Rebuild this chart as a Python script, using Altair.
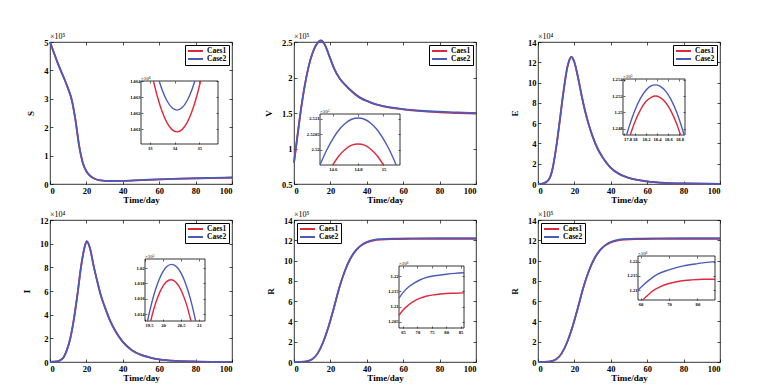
import altair as alt
import pandas as pd

CASES = ["Caes1", "Case2"]
RED, BLUE = "#E0283C", "#4B5CB8"
FONT = "Liberation Serif"

# ---------------- data ----------------
# S (x10^5)
S_t = [0, 2, 4, 6, 8, 10, 12, 14, 16, 18, 20, 22, 24, 26, 28, 30, 34, 40, 50, 60, 70, 80, 90, 100]
S_c1 = [5.0, 4.65, 4.3, 3.98, 3.68, 3.35, 2.95, 2.25, 1.35, 0.75, 0.45, 0.29, 0.2, 0.15, 0.125, 0.113, 0.106, 0.11, 0.135, 0.16, 0.18, 0.195, 0.21, 0.22]
S_c2 = [5.0, 4.65, 4.3, 3.98, 3.68, 3.35, 2.95, 2.25, 1.35, 0.75, 0.45, 0.29, 0.2, 0.15, 0.125, 0.113, 0.106, 0.111, 0.138, 0.165, 0.186, 0.203, 0.218, 0.232]
# S inset (x10^4)
Si_t1 = [33.15, 33.3, 33.5, 33.7, 33.9, 34.1, 34.3, 34.5, 34.7, 34.9, 35.05]
Si_v1 = [1.0640, 1.06309, 1.06211, 1.06141, 1.06099, 1.06085, 1.06099, 1.06141, 1.06211, 1.06309, 1.0640]
Si_t2 = [33.38, 33.5, 33.7, 33.9, 34.1, 34.3, 34.5, 34.7, 34.82]
Si_v2 = [1.0640, 1.06346, 1.06276, 1.06234, 1.0622, 1.06234, 1.06276, 1.06346, 1.0640]

# V (x10^5)
V_t = [0, 2, 4, 6, 8, 10, 12, 14.8, 17, 19, 22, 25, 28, 32, 36, 40, 45, 50, 60, 70, 80, 90, 100]
V_c1 = [0.8, 1.2, 1.58, 1.9, 2.15, 2.33, 2.45, 2.52, 2.46, 2.33, 2.13, 1.99, 1.9, 1.8, 1.72, 1.67, 1.62, 1.59, 1.55, 1.525, 1.51, 1.5, 1.49]
V_c2 = [0.8, 1.2, 1.58, 1.9, 2.15, 2.33, 2.45, 2.521, 2.46, 2.33, 2.13, 1.99, 1.9, 1.8, 1.72, 1.67, 1.62, 1.592, 1.555, 1.532, 1.518, 1.508, 1.5]
# V inset (x10^5)
Vi_t1 = [14.6, 14.65, 14.7, 14.75, 14.8, 14.85, 14.9, 14.95, 15.0]
Vi_v1 = [2.5195, 2.5198, 2.52001, 2.52014, 2.52018, 2.52014, 2.52001, 2.5198, 2.5195]
Vi_t2 = [14.5, 14.55, 14.6, 14.65, 14.7, 14.75, 14.8, 14.85, 14.9, 14.95, 15.0, 15.05, 15.1]
Vi_v2 = [2.5195, 2.51996, 2.52034, 2.52064, 2.52085, 2.52098, 2.52102, 2.52098, 2.52085, 2.52064, 2.52034, 2.51996, 2.5195]

# E (x10^4)
E_t = [0, 3, 6, 8, 10, 12, 14, 16, 17, 18.4, 20, 22, 24, 26, 28, 30, 33, 36, 40, 45, 50, 60, 70, 80, 100]
E_c1 = [0, 0.07, 0.45, 1.5, 3.6, 6.3, 9.1, 11.4, 12.1, 12.52, 12.0, 10.5, 8.7, 7.1, 5.8, 4.7, 3.4, 2.5, 1.6, 0.95, 0.6, 0.25, 0.1, 0.05, 0.02]
E_c2 = [0, 0.07, 0.45, 1.5, 3.6, 6.3, 9.1, 11.4, 12.1, 12.534, 12.0, 10.5, 8.7, 7.1, 5.8, 4.7, 3.4, 2.5, 1.6, 0.95, 0.6, 0.25, 0.1, 0.05, 0.02]
# E inset (x10^5)
Ei_t1 = [17.92, 18.0, 18.1, 18.2, 18.3, 18.37, 18.45, 18.55, 18.65, 18.75, 18.82]
Ei_v1 = [1.2472, 1.24876, 1.25027, 1.25132, 1.25188, 1.2520, 1.25185, 1.25123, 1.25014, 1.24858, 1.2472]
Ei_t2 = [17.855, 17.9, 18.0, 18.1, 18.2, 18.3, 18.37, 18.45, 18.55, 18.65, 18.75, 18.885]
Ei_v2 = [1.2472, 1.24823, 1.25019, 1.25168, 1.25271, 1.25327, 1.25338, 1.25323, 1.25263, 1.25155, 1.25002, 1.2472]

# I (x10^4)
I_t = [0, 4, 7, 9, 11, 13, 15, 17, 19, 20.2, 22, 24, 26, 28, 30, 33, 36, 40, 45, 50, 55, 60, 70, 80, 100]
I_c1 = [0, 0.05, 0.3, 0.9, 1.9, 3.5, 5.6, 8.0, 9.7, 10.186, 9.6, 8.1, 6.8, 5.6, 4.7, 3.5, 2.6, 1.7, 1.0, 0.6, 0.38, 0.23, 0.09, 0.04, 0.01]
I_c2 = [0, 0.05, 0.3, 0.9, 1.9, 3.5, 5.6, 8.0, 9.7, 10.205, 9.6, 8.1, 6.8, 5.6, 4.7, 3.5, 2.6, 1.7, 1.0, 0.6, 0.38, 0.23, 0.09, 0.04, 0.01]
# I inset (x10^5)
Ii_t1 = [19.66, 19.7, 19.8, 19.9, 20.0, 20.1, 20.22, 20.35, 20.45, 20.55, 20.65, 20.78]
Ii_v1 = [1.0131, 1.01388, 1.01548, 1.01674, 1.01766, 1.01824, 1.01848, 1.01819, 1.01758, 1.01663, 1.01534, 1.0131]
Ii_t2 = [19.57, 19.7, 19.8, 19.9, 20.0, 20.1, 20.24, 20.4, 20.5, 20.6, 20.7, 20.8, 20.91]
Ii_v2 = [1.0131, 1.01569, 1.01731, 1.01859, 1.01955, 1.02018, 1.0205, 1.02008, 1.01938, 1.01836, 1.01701, 1.01533, 1.0131]

# R (x10^5)
R_t = [0, 6, 10, 13, 16, 19, 22, 25, 28, 31, 34, 37, 40, 44, 48, 55, 65, 80, 100]
R_c1 = [0, 0.03, 0.26, 0.85, 1.95, 3.5, 5.4, 7.4, 9.0, 10.2, 11.0, 11.5, 11.8, 12.0, 12.07, 12.11, 12.13, 12.136, 12.136]
R_c2 = [0, 0.03, 0.26, 0.85, 1.95, 3.5, 5.4, 7.4, 9.0, 10.2, 11.0, 11.52, 11.83, 12.04, 12.12, 12.17, 12.19, 12.2, 12.2]
# R inset, panel 5 (x10^6)
R5i_t1 = [63.6, 65, 67, 69, 71, 73, 76, 80, 83, 86.2]
R5i_v1 = [1.2071, 1.2089, 1.2106, 1.2119, 1.2128, 1.2134, 1.2139, 1.2143, 1.2144, 1.2145]
R5i_t2 = [63.6, 65, 67, 69, 71, 73, 76, 80, 83, 86.2]
R5i_v2 = [1.2128, 1.2146, 1.2165, 1.2178, 1.2188, 1.2195, 1.2201, 1.2206, 1.2209, 1.2211]
# R inset, panel 6 (x10^6)
R6i_t1 = [60.8, 62, 64, 67, 70, 74, 78, 82, 86.2]
R6i_v1 = [1.2065, 1.2077, 1.2095, 1.2112, 1.2123, 1.2132, 1.2136, 1.2138, 1.2138]
R6i_t2 = [59.1, 61, 63, 66, 70, 75, 80, 86.2]
R6i_v2 = [1.2100, 1.2118, 1.2135, 1.2156, 1.2171, 1.2185, 1.2193, 1.2200]

X_TICKS = [0, 20, 40, 60, 80, 100]

PANELS = [
    dict(ytitle="S", ydom=[0, 5], yticks=[0, 1, 2, 3, 4, 5], exp="×10⁵",
         main=(S_t, S_c1, S_t, S_c2), ins=(Si_t1, Si_v1, Si_t2, Si_v2),
         ixdom=[32.65, 35.75], ixt=[33, 34, 35], iydom=[1.0601, 1.0640], iyt=[1.061, 1.062, 1.063, 1.064],
         iexp="×10⁴", leg="top-right"),
    dict(ytitle="V", ydom=[0.5, 2.5], yticks=[0.5, 1, 1.5, 2, 2.5], exp="×10⁵",
         main=(V_t, V_c1, V_t, V_c2), ins=(Vi_t1, Vi_v1, Vi_t2, Vi_v2),
         ixdom=[14.5, 15.13], ixt=[14.6, 14.8, 15], iydom=[2.5195, 2.52115], iyt=[2.52, 2.5205, 2.521],
         iexp="×10⁵", leg="top-right"),
    dict(ytitle="E", ydom=[0, 14], yticks=[0, 2, 4, 6, 8, 10, 12, 14], exp="×10⁴",
         main=(E_t, E_c1, E_t, E_c2), ins=(Ei_t1, Ei_v1, Ei_t2, Ei_v2),
         ixdom=[17.79, 18.9], ixt=[17.8, 18, 18.2, 18.4, 18.6, 18.8], iydom=[1.2472, 1.2541], iyt=[1.248, 1.25, 1.252, 1.254],
         iexp="×10⁵", leg="top-right"),
    dict(ytitle="I", ydom=[0, 12], yticks=[0, 2, 4, 6, 8, 10, 12], exp="×10⁴",
         main=(I_t, I_c1, I_t, I_c2), ins=(Ii_t1, Ii_v1, Ii_t2, Ii_v2),
         ixdom=[19.5, 21.17], ixt=[19.5, 20, 20.5, 21], iydom=[1.0131, 1.0212], iyt=[1.014, 1.016, 1.018, 1.02],
         iexp="×10⁵", leg="top-right"),
    dict(ytitle="R", ydom=[0, 14], yticks=[0, 2, 4, 6, 8, 10, 12, 14], exp="×10⁵",
         main=(R_t, R_c1, R_t, R_c2), ins=(R5i_t1, R5i_v1, R5i_t2, R5i_v2),
         ixdom=[63.6, 86.2], ixt=[65, 70, 75, 80, 85], iydom=[1.2030, 1.2233], iyt=[1.205, 1.21, 1.215, 1.22],
         iexp="×10⁶", leg="top-left"),
    dict(ytitle="R", ydom=[0, 14], yticks=[0, 2, 4, 6, 8, 10, 12, 14], exp="×10⁵",
         main=(R_t, R_c1, R_t, R_c2), ins=(R6i_t1, R6i_v1, R6i_t2, R6i_v2),
         ixdom=[59.1, 86.2], ixt=[60, 70, 80], iydom=[1.2065, 1.2220], iyt=[1.21, 1.215, 1.22],
         iexp="×10⁶", leg="top-left"),
]

# ---------------- layout (pixels, relative to each plot area) ----------------
W, H = 182, 142
INSET_BOX = [  # x0, x1, y_top, y_bottom
    (91, 168, 39, 102),
    (26, 106, 72, 123),
    (85, 147, 37, 93),
    (95, 155, 39, 101),
    (105, 170, 46, 108),
    (100, 177, 36, 80),
]
NUMFMT = ".8~g"


def long_df(t1, v1, t2, v2):
    return pd.DataFrame({"t": list(t1) + list(t2), "v": list(v1) + list(v2),
                         "case": [CASES[0]] * len(t1) + [CASES[1]] * len(t2)})


def color_enc(orient):
    return alt.Color("case:N", scale=alt.Scale(domain=CASES, range=[RED, BLUE]),
                     legend=alt.Legend(title=None, orient=orient, offset=3, padding=2,
                                       strokeColor="black", fillColor="white",
                                       symbolType="stroke", symbolSize=225, symbolStrokeWidth=2,
                                       clipHeight=8, rowPadding=0, labelOffset=3,
                                       labelFont=FONT, labelFontSize=7.5, labelFontWeight="bold",
                                       labelColor="black"))


def make_panel(p, box):
    one = pd.DataFrame({"k": [0]})
    col = color_enc(p["leg"])
    xs = alt.Scale(domain=[0, 100], nice=False, zero=False)
    ys = alt.Scale(domain=p["ydom"], nice=False, zero=False)
    lines = alt.Chart(long_df(*p["main"])).mark_line(strokeWidth=1.8, interpolate="monotone").encode(
        x=alt.X("t:Q", scale=xs, axis=alt.Axis(values=X_TICKS, title="Time/day", format=NUMFMT,
                                              ticks=False, domain=False, grid=True, gridColor="black",
                                              gridWidth=0.7, gridDash=[3, H - 6, 3, 400],
                                              labelFont=FONT, titleFont=FONT,
                                              labelPadding=2, titlePadding=1)),
        y=alt.Y("v:Q", scale=ys, axis=alt.Axis(values=p["yticks"], title=p["ytitle"], format=NUMFMT,
                                              ticks=False, domain=False, grid=True, gridColor="black",
                                              gridWidth=0.7, gridDash=[3, W - 6, 3, 400],
                                              labelFont=FONT, titleFont=FONT,
                                              labelPadding=2, titlePadding=8)),
        color=col,
    )
    exp = alt.Chart(one).mark_text(text=p["exp"], align="left", baseline="bottom", dy=-1,
                                   font=FONT, fontSize=8, color="black").encode(
        x=alt.X(datum=0, scale=xs, axis=None),
        y=alt.Y(datum=p["ydom"][1], scale=ys, axis=None),
    )

    x0, x1, yt, yb = box
    iw, ih = x1 - x0, yb - yt
    ixs = alt.Scale(domain=p["ixdom"], range=[x0, x1], nice=False, zero=False)
    iys = alt.Scale(domain=p["iydom"], range=[yb, yt], nice=False, zero=False)
    irect = alt.Chart(one).mark_rect(fillOpacity=0, stroke="black", strokeWidth=0.8).encode(
        x=alt.X(datum=p["ixdom"][0], scale=ixs, axis=None),
        x2=alt.X2(datum=p["ixdom"][1]),
        y=alt.Y(datum=p["iydom"][0], scale=iys, axis=None),
        y2=alt.Y2(datum=p["iydom"][1]),
    )
    ilines = alt.Chart(long_df(*p["ins"])).mark_line(strokeWidth=1.4, interpolate="monotone").encode(
        # a "top" axis anchored at the inset's lower edge, so that its grid stubs span the inset box
        x=alt.X("t:Q", scale=ixs, axis=alt.Axis(orient="top", offset=-yb, values=p["ixt"],
                                               title=None, format=NUMFMT, ticks=False, tickSize=0,
                                               domain=False, labelOverlap=False,
                                               labelBaseline="top", labelPadding=-1.5,
                                               grid=True, gridColor="black", gridWidth=0.6,
                                               gridDash=[2, ih - 4, 2, 400],
                                               labelFont=FONT, labelFontSize=4.6)),
        y=alt.Y("v:Q", scale=iys, axis=alt.Axis(orient="left", offset=-x0, values=p["iyt"],
                                               title=None, format=NUMFMT, ticks=False, tickSize=0,
                                               domain=False, labelOverlap=False,
                                               grid=True, gridColor="black", gridWidth=0.6,
                                               gridDash=[2, iw - 4, 2, 400],
                                               labelFont=FONT, labelFontSize=4.6, labelPadding=1)),
        color=col,
    )
    iexp = alt.Chart(one).mark_text(text=p["iexp"], align="left", baseline="bottom", dy=0,
                                    font=FONT, fontSize=5, color="black").encode(
        x=alt.X(datum=p["ixdom"][0], scale=ixs, axis=None),
        y=alt.Y(datum=p["iydom"][1], scale=iys, axis=None),
    )
    return alt.layer(lines, exp, irect, ilines, iexp).resolve_scale(
        x="independent", y="independent").properties(width=W, height=H)


panels = [make_panel(p, b) for p, b in zip(PANELS, INSET_BOX)]

chart = alt.concat(*panels, columns=3, spacing={"row": 36, "column": 62}, bounds="flush").resolve_scale(
    color="independent"
).properties(
    padding={"left": 14, "top": 24, "right": 5, "bottom": 0}, background="white"
).configure_view(stroke="black", strokeWidth=0.8).configure_axis(
    labelFont=FONT, titleFont=FONT, labelFontWeight="bold", titleFontWeight="bold",
    labelColor="black", titleColor="black", labelFontSize=8.5, titleFontSize=9,
)

chart.save("out.html", embed_options={"renderer": "svg", "actions": False})
